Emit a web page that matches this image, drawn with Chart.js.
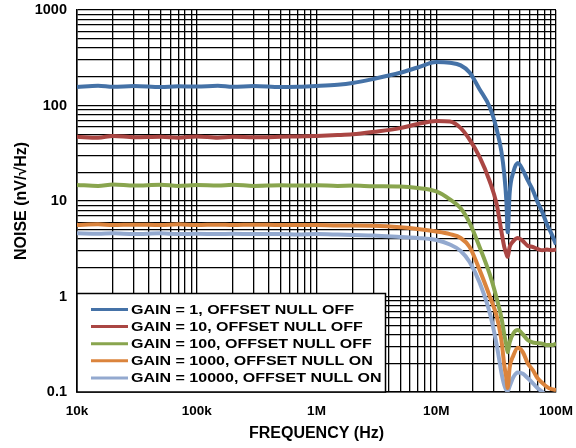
<!DOCTYPE html>
<html>
<head>
<meta charset="utf-8">
<script src="https://cdn.jsdelivr.net/npm/chart.js@4.4.1/dist/chart.umd.min.js"></script>
<style>
  html, body { margin: 0; padding: 0; background: #fff; }
  #wrap { width: 576px; height: 448px; }
</style>
</head>
<body>
<div id="wrap"><canvas id="noiseChart" width="576" height="448"></canvas></div>
<script>
// Frequenze di misura (Hz)
const FREQ = [
    1e4, 1.5e4, 2e4, 3e4, 5e4, 7e4, 1e5, 1.5e5, 2e5, 3e5, 5e5, 7e5,
    1e6, 1.5e6, 2e6, 3e6, 5e6, 7e6, 1e7, 1.3e7, 1.6e7, 1.9e7, 2.3e7, 2.8e7,
    3.2e7, 3.5e7, 3.7e7, 3.85e7, 3.95e7, 4.1e7, 4.4e7, 4.8e7, 5.3e7, 5.8e7,
    6.4e7, 7e7, 7.7e7, 8.4e7, 9.2e7, 1e8
];

// Rumore (nV/√Hz) per ciascuna configurazione
const GAIN_1 = [
    156, 161, 157, 160, 156, 159, 158, 161, 157, 160, 156, 157,
    160, 165, 172, 190, 220, 250, 285, 280, 263, 222, 148, 96,
    56, 33, 19, 10, 4.7, 12, 20, 25, 21, 16.5,
    13, 9.8, 7.6, 5.7, 4.5, 3.5
];
const GAIN_10 = [
    47, 46, 48, 46.5, 47, 46, 47.5, 46, 47, 46.5, 47, 47.5,
    48, 49, 50, 53, 58, 64, 69, 68, 58, 44, 29, 16,
    9.2, 4.8, 3.3, 2.8, 2.6, 3.3, 3.8, 4.1, 3.8, 3.4,
    3.3, 3.15, 3.05, 3.1, 3.05, 3.1
];
const GAIN_100 = [
    14.7, 14.4, 14.9, 14.5, 14.8, 14.4, 14.7, 14.5, 14.8, 14.4, 14.6, 14.5,
    14.6, 14.4, 14.5, 14.3, 14.2, 13.7, 12.6, 10.4, 8.4, 5.9, 3.3, 1.7,
    0.95, 0.6, 0.4, 0.31, 0.26, 0.33, 0.41, 0.445, 0.4, 0.35,
    0.33, 0.325, 0.32, 0.31, 0.31, 0.32
];
const GAIN_1000 = [
    5.6, 5.7, 5.6, 5.65, 5.6, 5.7, 5.6, 5.65, 5.6, 5.65, 5.6, 5.6,
    5.6, 5.55, 5.55, 5.5, 5.3, 5.1, 4.8, 4.5, 4.1, 3.3, 1.9, 1.0,
    0.62, 0.35, 0.19, 0.14, 0.11, 0.18, 0.24, 0.29, 0.26, 0.2,
    0.17, 0.14, 0.124, 0.113, 0.107, 0.105
];
const GAIN_10000 = [
    4.6, 4.55, 4.6, 4.5, 4.6, 4.5, 4.55, 4.5, 4.55, 4.5, 4.5, 4.45,
    4.5, 4.45, 4.4, 4.35, 4.2, 4.1, 3.9, 3.5, 3.0, 2.3, 1.4, 0.67,
    0.31, 0.16, 0.118, 0.105, 0.102, 0.115, 0.143, 0.16, 0.155, 0.14,
    0.124, 0.11, 0.1, 0.088, null, null
];

const SERIES_LABELS = [
    'GAIN = 1, OFFSET NULL OFF',
    'GAIN = 10, OFFSET NULL OFF',
    'GAIN = 100, OFFSET NULL OFF',
    'GAIN = 1000, OFFSET NULL ON',
    'GAIN = 10000, OFFSET NULL ON'
];
const SERIES_DATA = [GAIN_1, GAIN_10, GAIN_100, GAIN_1000, GAIN_10000];
const SERIES_COLORS = ['#4572A7', '#AA4643', '#89A54E', '#DB843D', '#93A9CF'];

// Etichette delle decadi sugli assi
const X_DECADES = [1e4, 1e5, 1e6, 1e7, 1e8];
const X_TICK_LABELS = ['10k', '100k', '1M', '10M', '100M'];
const Y_DECADES = [0.1, 1, 10, 100, 1000];
const Y_TICK_LABELS = ['0.1', '1', '10', '100', '1000'];

const FONT = 'Arial, "Liberation Sans", Helvetica, sans-serif';

/**
 * Costruisce le tacche logaritmiche 1..9 per ogni decade.
 */
function logTicks(decades) {
    const ticks = [];
    for (let i = 0; i < decades.length - 1; i++) {
        for (let m = 1; m <= 9; m++) {
            ticks.push({ value: +(decades[i] * m).toPrecision(6), major: m === 1 });
        }
    }
    ticks.push({ value: decades[decades.length - 1], major: true });
    return ticks;
}

function decadeLabel(value, decades, labels) {
    const idx = decades.findIndex(d => Math.abs(d - value) / d < 1e-6);
    return idx >= 0 ? labels[idx] : '';
}

// Legenda dentro l'area del grafico, in basso a sinistra con riquadro bianco
const insideLegend = {
    id: 'insideLegend',
    afterDraw(chart) {
        const { ctx, chartArea } = chart;
        const left = chartArea.left;
        const top = 293.5;
        const right = 385.5;
        const bottom = chartArea.bottom;
        ctx.save();
        ctx.fillStyle = '#fff';
        ctx.fillRect(left, top, right - left, bottom - top);
        ctx.strokeStyle = '#000';
        ctx.lineWidth = 1.5;
        ctx.strokeRect(left, top, right - left, bottom - top);

        ctx.font = 'bold 13px ' + FONT;
        ctx.textBaseline = 'middle';
        ctx.textAlign = 'left';
        // testo un po' allargato in orizzontale, come nel foglio di calcolo
        const stretch = 223 / ctx.measureText(chart.data.datasets[0].label).width;
        chart.data.datasets.forEach((ds, i) => {
            const y = 309.5 + i * 17.1;
            ctx.strokeStyle = ds.borderColor;
            ctx.lineWidth = 3;
            ctx.beginPath();
            ctx.moveTo(91, y);
            ctx.lineTo(128, y);
            ctx.stroke();
            ctx.save();
            ctx.translate(131, y + 0.5);
            ctx.scale(stretch, 1);
            ctx.fillStyle = '#000';
            ctx.fillText(ds.label, 0, 0);
            ctx.restore();
        });
        ctx.restore();
    }
};

const datasets = SERIES_DATA.map((values, i) => ({
    label: SERIES_LABELS[i],
    data: FREQ.map((f, j) => ({ x: f, y: values[j] })),
    borderColor: SERIES_COLORS[i],
    backgroundColor: SERIES_COLORS[i],
    borderWidth: 4,
    pointRadius: 0,
    fill: false,
    cubicInterpolationMode: 'monotone',
    spanGaps: false
}));

new Chart(document.getElementById('noiseChart').getContext('2d'), {
    type: 'line',
    data: { datasets },
    plugins: [insideLegend],
    options: {
        responsive: false,
        animation: false,
        layout: { padding: { top: 10, right: 20, left: 0, bottom: 0 } },
        plugins: {
            legend: { display: false },
            tooltip: { enabled: false }
        },
        scales: {
            x: {
                type: 'logarithmic',
                min: 1e4,
                max: 1e8,
                afterBuildTicks: scale => { scale.ticks = logTicks(X_DECADES); },
                afterFit: scale => {
                    scale.height = 56;
                    scale.paddingLeft = 0;
                    scale.paddingRight = 0;
                },
                grid: { color: '#000', lineWidth: 1.3, drawTicks: false },
                border: { color: '#000', width: 1.5 },
                ticks: {
                    autoSkip: false,
                    maxRotation: 0,
                    padding: 11,
                    color: '#000',
                    font: { family: FONT, size: 13.5, weight: 'bold' },
                    callback: value => decadeLabel(value, X_DECADES, X_TICK_LABELS)
                },
                title: {
                    display: true,
                    text: 'FREQUENCY (Hz)',
                    color: '#000',
                    font: { family: FONT, size: 16, weight: 'bold' },
                    padding: { top: 0, bottom: 5 }
                }
            },
            y: {
                type: 'logarithmic',
                min: 0.1,
                max: 1000,
                afterBuildTicks: scale => { scale.ticks = logTicks(Y_DECADES); },
                afterFit: scale => {
                    scale.width = 77;
                    scale.paddingTop = 0;
                    scale.paddingBottom = 0;
                },
                grid: { color: '#000', lineWidth: 1.3, drawTicks: false },
                border: { color: '#000', width: 1.5 },
                ticks: {
                    autoSkip: false,
                    padding: 10,
                    color: '#000',
                    font: { family: FONT, size: 14.5, weight: 'bold' },
                    callback: value => decadeLabel(value, Y_DECADES, Y_TICK_LABELS)
                },
                title: {
                    display: true,
                    text: 'NOISE (nV/√Hz)',
                    color: '#000',
                    font: { family: FONT, size: 16, weight: 'bold' },
                    padding: { top: 12, bottom: 0 }
                }
            }
        }
    }
});
</script>
</body>
</html>
